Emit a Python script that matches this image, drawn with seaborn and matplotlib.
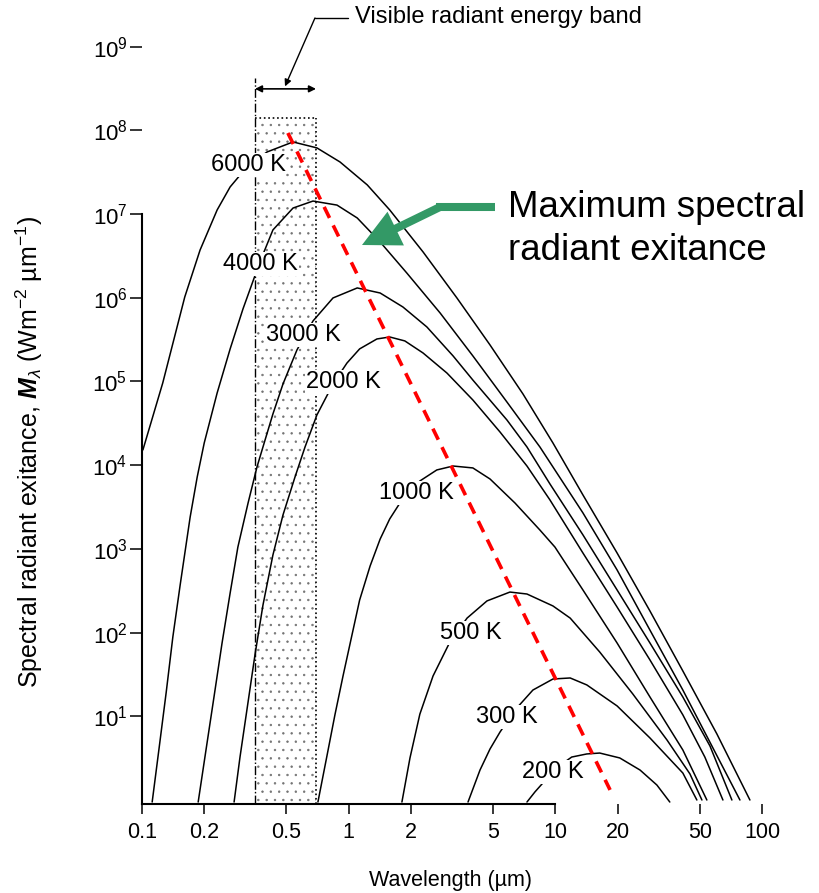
import matplotlib
matplotlib.use('Agg')
import matplotlib.pyplot as plt
from matplotlib.patches import FancyArrowPatch, ArrowStyle
from matplotlib.lines import Line2D
from matplotlib.ticker import NullLocator
import pandas as pd
import seaborn as sns

# blackbody curves: wavelength (um) / exitance (W m-2 um-1)
lam_6000 = [0.101, 0.126, 0.161, 0.191, 0.231, 0.267, 0.322, 0.403, 0.538, 0.702, 0.908, 1.23,
            1.58, 2.29, 3.34, 4.83, 6.97, 9.74, 13.6, 19.9, 28.7, 41.4, 60.5, 87.4]
M_6000 = [1.52e4, 9.60e4, 1.02e6, 3.72e6, 1.12e7, 2.11e7, 3.66e7, 5.52e7, 7.27e7, 6.17e7, 4.19e7, 2.23e7,
          1.12e7, 3.53e6, 9.95e5, 2.73e5, 7.10e4, 1.84e4, 4.41e3, 893, 181, 34.8, 6.15, 1.0]

lam_4000 = [0.112, 0.121, 0.131, 0.141, 0.153, 0.171, 0.185, 0.200, 0.231, 0.267, 0.308, 0.372, 0.430,
            0.538, 0.672, 0.878, 1.10, 1.42, 1.91, 2.77, 3.99, 5.83, 8.42, 13.6, 19.9, 28.7, 41.4, 57.9, 78.2]
M_4000 = [0.946, 4.18, 19.5, 88.6, 371, 2.40e3, 7.23e3, 1.84e4, 7.29e4, 2.45e5, 7.35e5, 2.68e6, 6.46e6,
          1.18e7, 1.43e7, 1.28e7, 8.98e6, 4.64e6, 1.98e6, 6.58e5, 2.02e5, 5.69e4, 1.65e4, 2.69e3, 560, 107, 20.6, 4.18, 1.0]

lam_3000 = [0.187, 0.204, 0.223, 0.244, 0.267, 0.291, 0.326, 0.360, 0.394, 0.430, 0.481, 0.562, 0.672,
            0.840, 1.10, 1.42, 1.83, 2.39, 3.20, 3.99, 5.83, 7.29, 9.42, 13.6, 19.9, 28.7, 41.4, 56.0, 71.5]
M_3000 = [0.946, 3.96, 17.0, 75.1, 297, 1.05e3, 3.53e3, 9.51e3, 2.00e4, 4.09e4, 9.33e4, 2.38e5, 5.28e5,
          9.95e5, 1.31e6, 1.14e6, 7.76e5, 4.48e5, 2.02e5, 1.04e5, 3.47e4, 1.65e4, 5.96e3, 1.47e3, 323, 75.1, 17.0, 4.42, 1.0]

lam_2000 = [0.279, 0.298, 0.326, 0.352, 0.385, 0.430, 0.481, 0.550, 0.615, 0.702, 0.840, 0.981, 1.13,
            1.37, 1.58, 1.87, 2.29, 2.99, 3.99, 5.40, 7.29, 9.42, 13.6, 19.9, 28.7, 41.4, 52.9, 64.7]
M_2000 = [0.946, 3.26, 14.8, 54.0, 214, 845, 2.54e3, 7.23e3, 1.65e4, 3.98e4, 9.33e4, 1.66e5, 2.45e5,
          3.22e5, 3.40e5, 3.05e5, 2.19e5, 1.26e5, 6.01e4, 2.49e4, 9.77e3, 3.84e3, 893, 202, 47.1, 10.4, 3.26, 1.0]

lam_1000 = [0.710, 0.785, 0.858, 0.939, 1.04, 1.13, 1.27, 1.42, 1.58, 1.77, 2.21, 2.67, 3.20, 3.99,
            4.83, 6.38, 8.42, 9.96, 13.6, 19.9, 28.7, 41.4, 54.1]
M_1000 = [0.946, 3.36, 10.4, 30.3, 96.2, 245, 625, 1.31e3, 2.28e3, 3.53e3, 6.47e3, 8.77e3, 9.77e3, 9.27e3,
          6.84e3, 3.53e3, 1.68e3, 1.05e3, 323, 75.1, 17.0, 3.96, 1.0]

lam_500 = [1.81, 1.98, 2.21, 2.56, 3.09, 3.74, 4.67, 6.03, 7.29, 9.74, 11.8, 16.4, 23.7, 34.7, 44.8, 51.2]
M_500 = [0.946, 3.18, 10.6, 30.3, 77.3, 149, 239, 305, 289, 208, 149, 58.6, 18.5, 5.21, 2.05, 1.0]

lam_300 = [3.78, 4.32, 4.83, 5.40, 6.38, 7.79, 9.74, 11.8, 14.2, 19.9, 28.7, 41.4, 48.4]
M_300 = [0.946, 2.28, 4.07, 6.49, 11.9, 20.6, 27.9, 28.7, 23.7, 13.3, 5.51, 2.10, 1.0]

lam_200 = [7.29, 7.97, 8.71, 10.1, 12.0, 14.2, 16.4, 20.5, 25.7, 31.0, 35.8]
M_200 = [0.946, 1.25, 1.60, 2.41, 3.26, 3.55, 3.64, 3.18, 2.28, 1.51, 0.946]

temps = [6000, 4000, 3000, 2000, 1000, 500, 300, 200]
lams = [lam_6000, lam_4000, lam_3000, lam_2000, lam_1000, lam_500, lam_300, lam_200]
Ms = [M_6000, M_4000, M_3000, M_2000, M_1000, M_500, M_300, M_200]

# curve labels
label_txt = ['6000 K', '4000 K', '3000 K', '2000 K', '1000 K', '500 K', '300 K', '200 K']
label_lam = [0.326, 0.376, 0.601, 0.939, 2.12, 3.91, 5.83, 9.74]
label_M = [3.86e7, 2.53e6, 3.59e5, 9.87e4, 4.66e3, 98.9, 9.81, 2.16]

# visible band and Wien line
band_lam = [0.352, 0.695]
band_top = 1.41e8
band_line_top = 4.23e8
band_arrow_M = 3.13e8
wien_lam = [0.508, 18.4]
wien_M = [9.3e7, 1.32]

xticks = [0.1, 0.2, 0.5, 1, 2, 5, 10, 20, 50, 100]
xticklabels = ['0.1', '0.2', '0.5', '1', '2', '5', '10', '20', '50', '100']
yexp = [1, 2, 3, 4, 5, 6, 7, 8, 9]

rows = []
for T, lam, M in zip(temps, lams, Ms):
    for l, m in zip(lam, M):
        rows.append((T, l, m))
df = pd.DataFrame(rows, columns=['T', 'lam', 'M'])

sns.set_theme(style='ticks')
plt.rcParams['font.family'] = ['Liberation Sans', 'DejaVu Sans']
plt.rcParams['mathtext.fontset'] = 'custom'
plt.rcParams['mathtext.rm'] = 'Liberation Sans'
plt.rcParams['mathtext.it'] = 'Liberation Sans:italic'
plt.rcParams['mathtext.bf'] = 'Liberation Sans:bold:italic'
plt.rcParams['hatch.linewidth'] = 0.5
for k in ['text.color', 'axes.labelcolor', 'xtick.color', 'ytick.color', 'axes.edgecolor']:
    plt.rcParams[k] = 'black'

W, H = 819, 893
def fpx(x, y):
    return (x / W, 1 - y / H)

ylo, yhi = 0.896, 2.74e9

fig = plt.figure(figsize=(W / 100, H / 100), dpi=100)
ax = fig.add_axes([142 / W, 89 / H, 620 / W, 794 / H])
ax.set_xscale('log')
ax.set_yscale('log')

# visible band stipple
ax.fill_between(band_lam, ylo, band_top, facecolor='none', edgecolor='0.45', hatch='..',
                linewidth=0, zorder=0.5)
ax.plot([band_lam[0]] * 2, [ylo, band_line_top], ls='-.', lw=1, color='black')
ax.plot([band_lam[1]] * 2, [ylo, band_top], ls=':', lw=1.2, color='black')
ax.plot(band_lam, [band_top] * 2, ls=':', lw=1.2, color='black')

sns.lineplot(data=df, x='lam', y='M', units='T', estimator=None, sort=False,
             color='black', lw=1.1, ax=ax, legend=False)

ax.plot(wien_lam, wien_M, color='#ff0000', lw=2.6, dashes=(3.4, 2.3), zorder=6)

for txt, l, m in zip(label_txt, label_lam, label_M):
    ax.text(l, m, txt, ha='center', va='center', fontsize=17, zorder=5,
            bbox=dict(fc='white', ec='none', pad=0.6))

ax.set_xlim(0.1, 100)
ax.set_ylim(ylo, yhi)
ax.set_xticks(xticks)
ax.set_xticklabels(xticklabels)
ax.set_yticks([10.0 ** n for n in yexp])
ax.set_yticklabels(['$10^{%d}$' % n for n in yexp])
ax.xaxis.set_minor_locator(NullLocator())
ax.yaxis.set_minor_locator(NullLocator())
ax.tick_params(axis='x', direction='out', length=7, width=1.1, pad=6, labelsize=15.5, colors='black')
ax.tick_params(axis='y', direction='out', length=8.5, width=1.1, pad=2, labelsize=16, colors='black')

sns.despine(ax=ax)
ax.spines['left'].set_bounds(ylo, 1e7)
ax.spines['bottom'].set_bounds(0.1, 10)
for s in ['left', 'bottom']:
    ax.spines[s].set_linewidth(1.5)
    ax.spines[s].set_color('black')

ax.set_xlabel('Wavelength (µm)', fontsize=15.5)
ax.set_ylabel('Spectral radiant exitance, $\\mathbf{M}_{\\lambda}$ (Wm$^{-2}$ µm$^{-1}$)', fontsize=18)
ax.xaxis.set_label_coords(0.497, -0.083)
ax.yaxis.set_label_coords(-0.156, 0.443)

# visible band callout
ax.text(1.07, 2.26e9, 'Visible radiant energy band', fontsize=17, va='center', ha='left')
ax.plot([0.992, 0.687], [2.2e9, 2.2e9], color='black', lw=1, clip_on=False)
ax.annotate('', xy=(0.492, 3.35e8), xytext=(0.687, 2.2e9),
            arrowprops=dict(arrowstyle='-|>', color='black', lw=1, shrinkA=0, shrinkB=0,
                            mutation_scale=10), annotation_clip=False)
ax.annotate('', xy=(band_lam[1], band_arrow_M), xytext=(band_lam[0], band_arrow_M),
            arrowprops=dict(arrowstyle='<|-|>', color='black', lw=1.2, shrinkA=0, shrinkB=0,
                            mutation_scale=10), annotation_clip=False)

# green arrow and caption
green = '#339966'
x0, y0 = fpx(495, 207)
x1, y1 = fpx(436, 207)
fig.add_artist(Line2D([x0, x1], [y0, y1], transform=fig.transFigure, color=green, lw=5.8,
                      solid_capstyle='butt'))
fig.add_artist(FancyArrowPatch(fpx(440, 207), fpx(362, 245), transform=fig.transFigure,
                               arrowstyle=ArrowStyle.Simple(head_length=27, head_width=27, tail_width=5.8),
                               mutation_scale=1, color=green, lw=0, shrinkA=0, shrinkB=0))
fig.text(*fpx(508, 217), 'Maximum spectral', fontsize=26.4, va='baseline', ha='left', color='black')
fig.text(*fpx(508, 260), 'radiant exitance', fontsize=26.4, va='baseline', ha='left', color='black')

fig.savefig('out.png', dpi=100)
